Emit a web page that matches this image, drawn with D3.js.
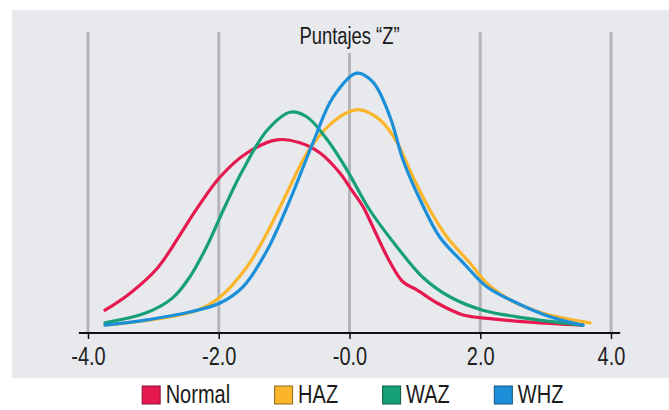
<!DOCTYPE html>
<html>
<head>
<meta charset="utf-8">
<script src="https://cdn.jsdelivr.net/npm/d3@7"></script>
<style>
  html, body { margin: 0; padding: 0; background: #fff; }
  svg { display: block; font-family: "Liberation Sans Narrow", "Arial Narrow", "Liberation Sans", Arial, sans-serif; }
</style>
</head>
<body>
<div id="chart"></div>
<script>
// Z-score density curves
const normalZ = [-3.74, -3.36, -2.94, -2.59, -2.33, -1.98, -1.57, -1.11, -0.76, -0.45, -0.15, 0.01, 0.21, 0.31, 0.62, 0.82, 1.03, 1.34, 1.74, 2.15, 2.76, 3.57];
const normalD = [0.038, 0.066, 0.108, 0.164, 0.208, 0.260, 0.300, 0.322, 0.317, 0.300, 0.267, 0.242, 0.210, 0.188, 0.118, 0.085, 0.072, 0.050, 0.030, 0.024, 0.018, 0.013];

const hazZ = [-3.74, -2.85, -2.33, -1.98, -1.57, -1.26, -0.96, -0.65, -0.34, -0.04, 0.16, 0.47, 0.73, 0.97, 1.23, 1.49, 1.84, 2.10, 2.46, 2.96, 3.68];
const hazD = [0.013, 0.025, 0.038, 0.060, 0.110, 0.167, 0.233, 0.300, 0.343, 0.367, 0.372, 0.355, 0.317, 0.260, 0.205, 0.160, 0.117, 0.083, 0.055, 0.033, 0.017];

const wazZ = [-3.74, -3.10, -2.70, -2.44, -2.18, -1.93, -1.63, -1.26, -0.91, -0.65, -0.34, -0.04, 0.31, 0.73, 1.12, 1.54, 2.04, 2.56, 3.17, 3.57];
const wazD = [0.017, 0.034, 0.059, 0.094, 0.145, 0.205, 0.272, 0.338, 0.368, 0.360, 0.322, 0.272, 0.205, 0.143, 0.093, 0.060, 0.038, 0.027, 0.018, 0.013];

const whzZ = [-3.74, -3.10, -2.44, -1.98, -1.63, -1.26, -0.91, -0.56, -0.25, 0.11, 0.36, 0.62, 0.82, 1.08, 1.38, 1.74, 2.10, 2.56, 3.07, 3.57];
const whzD = [0.013, 0.022, 0.035, 0.050, 0.077, 0.138, 0.222, 0.317, 0.393, 0.433, 0.418, 0.360, 0.288, 0.222, 0.160, 0.117, 0.077, 0.050, 0.027, 0.013];

const tickValues = [-4, -2, 0, 2, 4];
const tickLabels = ['-4.0', '-2.0', '-0.0', '2.0', '4.0'];
const seriesNames = ['Normal', 'HAZ', 'WAZ', 'WHZ'];
const title = 'Puntajes \u201CZ\u201D';

const COLORS = { Normal: '#e5194f', HAZ: '#fbb52a', WAZ: '#17a078', WHZ: '#1b8fd9' };
const BORDERS = { Normal: '#8a1030', HAZ: '#8a6a18', WAZ: '#0d5a44', WHZ: '#10507a' };

const series = [
  { name: 'Normal', z: normalZ, d: normalD },
  { name: 'HAZ', z: hazZ, d: hazD },
  { name: 'WAZ', z: wazZ, d: wazD },
  { name: 'WHZ', z: whzZ, d: whzD },
].map(s => ({ name: s.name, points: s.z.map((z, i) => ({ z, d: s.d[i] })) }));

const width = 669, height = 410;
const PANEL = { x: 12, y: 10, w: 657, h: 368 };
const PANEL_BG = '#e7e9ec';
const NARROW = 0.8; // the original uses a condensed face

// squeeze text horizontally when no narrow font is installed
function condense(sel, factor) {
  sel.each(function() {
    const len = this.getComputedTextLength();
    d3.select(this)
      .attr('textLength', len * factor)
      .attr('lengthAdjust', 'spacingAndGlyphs');
  });
}

const svg = d3.select('#chart').append('svg')
  .attr('width', width)
  .attr('height', height);

svg.append('rect')
  .attr('x', PANEL.x).attr('y', PANEL.y)
  .attr('width', PANEL.w).attr('height', PANEL.h)
  .attr('fill', PANEL_BG);

const x = d3.scaleLinear().domain([-4, 4]).range([88, 611]);
const y = d3.scaleLinear().domain([0, 0.5]).range([333, 33]);

// vertical grid
svg.append('g')
  .selectAll('line')
  .data(tickValues)
  .join('line')
  .attr('x1', d => x(d)).attr('x2', d => x(d))
  .attr('y1', 33).attr('y2', y(0))
  .attr('stroke', '#b4b5b9')
  .attr('stroke-width', 3)
  .attr('stroke-linecap', 'round');

// title with panel-coloured backing
const titleG = svg.append('g');
const titleText = titleG.append('text')
  .attr('x', x(0))
  .attr('y', 44)
  .attr('text-anchor', 'middle')
  .style('font-size', '23px')
  .style('fill', '#1a1a1a')
  .text(title);
condense(titleText, NARROW);
const tb = titleText.node().getBBox();
titleG.insert('rect', 'text')
  .attr('x', tb.x - 4).attr('y', tb.y - 2)
  .attr('width', tb.width + 8).attr('height', tb.height + 6)
  .attr('fill', PANEL_BG);

// curves
const line = d3.line()
  .x(d => x(d.z))
  .y(d => y(d.d))
  .curve(d3.curveCatmullRom.alpha(0.5));

svg.append('g')
  .selectAll('path')
  .data(series)
  .join('path')
  .attr('fill', 'none')
  .attr('stroke', s => COLORS[s.name])
  .attr('stroke-width', 3.2)
  .attr('stroke-linecap', 'round')
  .attr('d', s => line(s.points));

// x axis
const axis = svg.append('g')
  .attr('transform', `translate(0,${y(0)})`)
  .call(d3.axisBottom(x)
    .tickValues(tickValues)
    .tickFormat((d, i) => tickLabels[i])
    .tickSize(6)
    .tickSizeOuter(0)
    .tickPadding(8));
axis.select('.domain')
  .attr('d', `M${x(-4.14)},0H${x(4.14)}`)
  .attr('stroke', '#111')
  .attr('stroke-width', 2);
axis.selectAll('.tick line').attr('stroke', '#111').attr('stroke-width', 1.5);
axis.selectAll('.tick text')
  .style('font-family', null)
  .style('font-size', '25px')
  .attr('fill', '#222')
  .call(condense, NARROW);

// legend
const legend = svg.append('g');
const items = legend.selectAll('g')
  .data(seriesNames)
  .join('g');
items.append('rect')
  .attr('x', 0.5).attr('y', 386)
  .attr('width', 18).attr('height', 18)
  .attr('fill', d => COLORS[d])
  .attr('stroke', d => BORDERS[d])
  .attr('stroke-width', 1);
items.append('text')
  .attr('x', 24).attr('y', 403)
  .style('font-size', '25px')
  .attr('fill', '#1a1a1a')
  .text(d => d)
  .call(condense, NARROW);

const gap = 44;
let cursor = 0;
const offsets = [];
items.each(function() {
  offsets.push(cursor);
  const t = d3.select(this).select('text').node();
  cursor += 24 + (+t.getAttribute('textLength')) + gap;
});
const total = cursor - gap;
const start = x(0) + 3 - total / 2;
items.attr('transform', (d, i) => `translate(${start + offsets[i]},0)`);
</script>
</body>
</html>
